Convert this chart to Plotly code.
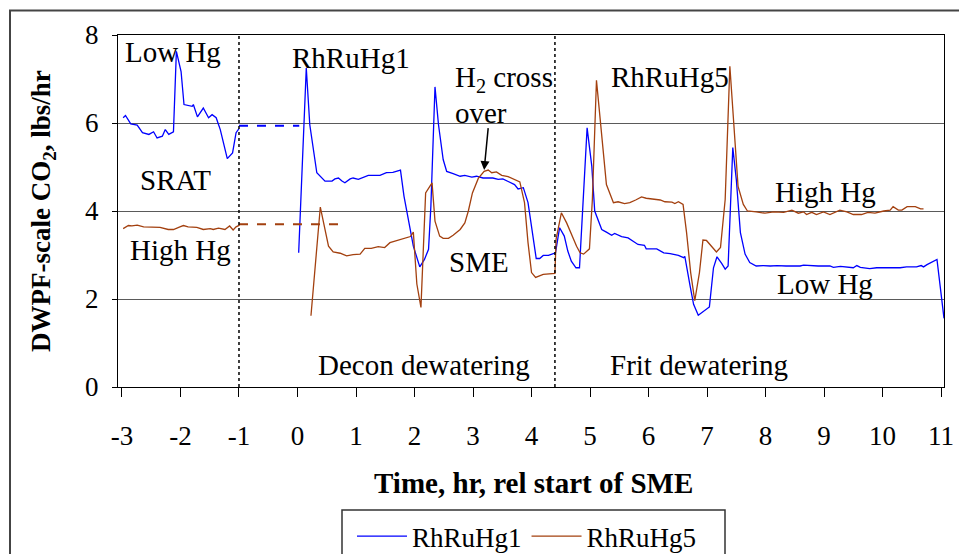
import plotly.graph_objects as go

# ---------------- data ----------------
# RhRuHg1 (low Hg) - SRAT segment
g1_srat_x = [-2.98, -2.94, -2.85, -2.74, -2.65, -2.54, -2.46, -2.40, -2.31, -2.26, -2.20, -2.12,
             -2.07, -1.99, -1.94, -1.80, -1.78, -1.71, -1.61, -1.52, -1.46, -1.39, -1.32, -1.27,
             -1.20, -1.11, -1.05, -1.00]
g1_srat_y = [6.12, 6.17, 5.98, 5.95, 5.78, 5.74, 5.80, 5.66, 5.70, 5.85, 5.74, 5.80,
             7.63, 7.17, 6.42, 6.38, 6.42, 6.14, 6.34, 6.12, 6.19, 6.12, 5.85, 5.55,
             5.19, 5.32, 5.78, 5.87]
# RhRuHg1 - SME segment
g1_sme_x = [0.02, 0.15, 0.21, 0.33, 0.47, 0.59, 0.64, 0.70, 0.76, 0.81, 0.90, 0.95, 1.04, 1.21,
            1.41, 1.52, 1.63, 1.74, 1.76, 1.82, 1.89, 1.98, 2.09, 2.17, 2.24, 2.28, 2.35, 2.41,
            2.49, 2.55, 2.66, 2.78, 2.86, 2.98, 3.06, 3.17, 3.34, 3.43, 3.51, 3.63, 3.71, 3.77,
            3.86, 3.94, 4.00, 4.08, 4.14, 4.20, 4.29, 4.41, 4.48, 4.56, 4.62, 4.68, 4.76, 4.82,
            4.95, 5.03, 5.08, 5.20, 5.28, 5.37, 5.42, 5.54, 5.65, 5.74, 5.82, 5.93, 5.96, 6.14,
            6.26, 6.37, 6.51, 6.60, 6.62, 6.71, 6.77, 6.85, 6.94, 7.04, 7.11, 7.17, 7.25, 7.31,
            7.36, 7.44, 7.50, 7.57, 7.65, 7.73, 7.84, 7.96, 8.08, 8.20, 8.35, 8.59, 8.65, 8.80,
            8.90, 9.10, 9.16, 9.28, 9.50, 9.56, 9.62, 9.78, 9.90, 10.30, 10.41, 10.58, 10.66,
            10.70, 10.76, 10.93, 11.03, 11.05]
g1_sme_y = [3.05, 7.25, 5.96, 4.87, 4.68, 4.68, 4.73, 4.75, 4.68, 4.64, 4.73, 4.75, 4.72, 4.81,
            4.81, 4.87, 4.88, 4.93, 4.93, 4.34, 3.81, 3.20, 2.73, 2.90, 3.13, 4.11, 6.82, 5.96,
            5.17, 4.90, 4.85, 4.79, 4.81, 4.77, 4.79, 4.75, 4.75, 4.72, 4.73, 4.66, 4.60, 4.50,
            4.53, 4.19, 3.66, 2.92, 2.92, 2.99, 2.99, 3.05, 3.62, 3.43, 3.09, 2.86, 2.71, 2.71,
            5.89, 5.02, 4.00, 3.58, 3.52, 3.45, 3.49, 3.42, 3.39, 3.32, 3.24, 3.22, 3.14, 3.14,
            3.05, 3.03, 2.99, 2.94, 2.97, 2.30, 1.88, 1.63, 1.73, 1.82, 2.71, 2.96, 2.81, 2.68,
            2.75, 5.44, 4.72, 3.51, 3.02, 2.83, 2.75, 2.76, 2.75, 2.76, 2.75, 2.75, 2.77, 2.75,
            2.75, 2.75, 2.72, 2.74, 2.71, 2.76, 2.72, 2.69, 2.71, 2.71, 2.73, 2.73, 2.76,
            2.73, 2.78, 2.90, 1.84, 1.56]

# RhRuHg5 (high Hg) - SRAT segment
g5_srat_x = [-2.98, -2.89, -2.83, -2.74, -2.63, -2.46, -2.35, -2.21, -2.12, -2.01, -1.95, -1.87,
             -1.72, -1.61, -1.49, -1.44, -1.35, -1.24, -1.16, -1.10, -1.05, -0.99]
g5_srat_y = [3.60, 3.67, 3.66, 3.68, 3.64, 3.63, 3.63, 3.58, 3.58, 3.64, 3.67, 3.64,
             3.63, 3.58, 3.60, 3.58, 3.61, 3.58, 3.66, 3.57, 3.64, 3.68]
# RhRuHg5 - SME segment
g5_sme_x = [0.23, 0.39, 0.53, 0.61, 0.73, 0.84, 0.95, 1.07, 1.15, 1.26, 1.38, 1.49, 1.58, 1.69,
            1.83, 1.93, 1.98, 2.04, 2.11, 2.19, 2.30, 2.35, 2.43, 2.49, 2.58, 2.66, 2.78, 2.86,
            2.92, 2.99, 3.09, 3.19, 3.26, 3.32, 3.40, 3.49, 3.60, 3.69, 3.80, 3.88, 3.94, 4.00,
            4.07, 4.20, 4.37, 4.40, 4.42, 4.51, 4.60, 4.69, 4.77, 4.83, 4.89, 4.99, 5.04, 5.11,
            5.20, 5.28, 5.40, 5.48, 5.59, 5.68, 5.78, 5.88, 5.96, 6.09, 6.20, 6.28, 6.40, 6.45,
            6.51, 6.59, 6.65, 6.72, 6.79, 6.87, 6.93, 6.99, 7.08, 7.16, 7.23, 7.31, 7.39, 7.48,
            7.53, 7.62, 7.69, 7.84, 7.99, 8.14, 8.31, 8.45, 8.56, 8.65, 8.70, 8.79, 8.87, 8.99,
            9.10, 9.27, 9.39, 9.50, 9.64, 9.75, 9.87, 10.02, 10.13, 10.18, 10.27, 10.33, 10.42,
            10.56, 10.65, 10.70]
g5_sme_y = [1.62, 4.09, 3.20, 3.07, 3.04, 2.98, 3.01, 3.02, 3.15, 3.15, 3.19, 3.17, 3.28, 3.32,
            3.37, 3.42, 3.52, 2.34, 1.81, 4.41, 4.64, 3.77, 3.43, 3.38, 3.38, 3.45, 3.58, 3.73,
            4.00, 4.41, 4.74, 4.90, 4.93, 4.87, 4.89, 4.81, 4.78, 4.72, 4.66, 4.19, 3.28, 2.60,
            2.49, 2.56, 2.58, 2.58, 3.36, 3.96, 3.73, 3.43, 3.20, 3.05, 3.02, 3.14, 4.26, 6.97,
            5.62, 4.60, 4.19, 4.21, 4.17, 4.19, 4.25, 4.32, 4.29, 4.26, 4.25, 4.21, 4.20, 4.17,
            4.21, 4.15, 3.51, 2.60, 1.96, 2.60, 3.34, 3.33, 3.20, 3.07, 3.17, 4.26, 7.29, 5.62,
            4.56, 4.15, 4.00, 3.98, 3.95, 3.98, 3.97, 4.02, 3.95, 3.98, 3.92, 3.97, 3.92, 3.98,
            3.92, 4.02, 3.98, 3.92, 3.92, 3.97, 3.95, 4.00, 4.02, 4.10, 4.02, 4.02, 4.10,
            4.10, 4.05, 4.05]

# dashed carry-over levels between SRAT end and SME
g1_gap_x = [-1.0, 0.03]
g1_gap_y = [5.94, 5.94]
g5_gap_x = [-1.0, 0.78]
g5_gap_y = [3.70, 3.70]

phase_bounds = [-1.0, 4.4]
x_ticks = list(range(-3, 12))
x_ticktext = [str(v) for v in x_ticks]  # plain hyphen minus, as in the original
y_ticks = [0, 2, 4, 6, 8]

BLUE = "#0000FF"
BROWN = "#A3400F"
FONT = "Liberation Serif"

fig = go.Figure()
fig.add_trace(go.Scatter(x=g1_srat_x + [None] + g1_sme_x, y=g1_srat_y + [None] + g1_sme_y,
                         mode="lines", name="RhRuHg1", line=dict(color=BLUE, width=1.3),
                         connectgaps=False))
fig.add_trace(go.Scatter(x=g5_srat_x + [None] + g5_sme_x, y=g5_srat_y + [None] + g5_sme_y,
                         mode="lines", name="RhRuHg5", line=dict(color=BROWN, width=1.3),
                         connectgaps=False))
fig.add_trace(go.Scatter(x=g1_gap_x, y=g1_gap_y, mode="lines", showlegend=False,
                         line=dict(color=BLUE, width=2, dash="dash")))
fig.add_trace(go.Scatter(x=g5_gap_x, y=g5_gap_y, mode="lines", showlegend=False,
                         line=dict(color=BROWN, width=2, dash="dash")))

for xb in phase_bounds:
    fig.add_shape(type="line", xref="x", yref="y", x0=xb, x1=xb, y0=0, y1=8,
                  line=dict(color="black", width=1.5, dash="dot"))

# plot-area pixel mapping helpers for paper coords (layout only)
L, T, W, H = 118, 35, 826, 352
def px(x):
    return (x - L) / W
def py(y):
    return (T + H - y) / H

# outer chart border
fig.add_shape(type="rect", xref="paper", yref="paper", x0=px(10), x1=px(980),
              y0=py(600), y1=py(10.5), line=dict(color="#444444", width=2), layer="below")
# legend box
fig.add_shape(type="rect", xref="paper", yref="paper", x0=px(342), x1=px(725),
              y0=py(600), y1=py(510), line=dict(color="#333333", width=1.5))

ann_font = dict(family=FONT, size=29, color="black")
labels = [
    ("Low Hg", -2.12, 7.61, "center"),
    ("SRAT", -2.08, 4.70, "center"),
    ("High Hg", -2.0, 3.11, "center"),
    ("RhRuHg1", 0.92, 7.48, "center"),
    ("H<sub>2</sub> cross", 2.66, 7.0, "left"),
    ("over", 2.66, 6.23, "left"),
    ("SME", 3.10, 2.84, "center"),
    ("Decon dewatering", 2.16, 0.50, "center"),
    ("Frit dewatering", 6.87, 0.50, "center"),
    ("RhRuHg5", 6.36, 7.05, "center"),
    ("High Hg", 9.03, 4.43, "center"),
    ("Low Hg", 9.02, 2.34, "center"),
]
for txt, x, y, anc in labels:
    fig.add_annotation(x=x, y=y, xref="x", yref="y", text=txt, showarrow=False,
                       xanchor=anc, yanchor="middle", font=ann_font)

# arrow to H2 cross-over point
fig.add_annotation(x=3.19, y=4.93, xref="x", yref="y", text=" ", showarrow=True,
                   ax=5, ay=-52, arrowhead=2, arrowsize=1.2, arrowwidth=1.5, arrowcolor="black")

# axis titles
fig.add_annotation(xref="paper", yref="paper", x=px(533), y=py(483),
                   text="<b>Time, hr, rel start of SME</b>", showarrow=False,
                   xanchor="center", yanchor="middle",
                   font=dict(family=FONT, size=29, color="black"))
fig.add_annotation(xref="paper", yref="paper", x=px(43), y=0.5,
                   text="<b>DWPF-scale CO<sub>2</sub>, lbs/hr</b>", showarrow=False,
                   textangle=-90, xanchor="center", yanchor="middle",
                   font=dict(family=FONT, size=27, color="black"))

fig.update_layout(
    width=959, height=554,
    margin=dict(l=L, r=959 - L - W, t=T, b=554 - T - H, autoexpand=False),
    paper_bgcolor="white", plot_bgcolor="white",
    showlegend=True,
    legend=dict(orientation="h", x=px(352), y=py(512), xanchor="left", yanchor="top",
                font=dict(family=FONT, size=27, color="black"),
                bgcolor="rgba(0,0,0,0)", borderwidth=0, itemwidth=50),
    xaxis=dict(range=[-3.068, 11.05], tickvals=x_ticks, ticktext=x_ticktext,
               ticks="outside", ticklen=9,
               tickcolor="black", showline=True, linecolor="black", linewidth=1, mirror=True,
               showgrid=False, zeroline=False, ticklabelstandoff=16,
               tickfont=dict(family=FONT, size=27, color="black")),
    yaxis=dict(range=[0, 8], tickvals=y_ticks, ticks="outside", ticklen=5,
               tickcolor="black", showline=True, linecolor="black", linewidth=1, mirror=True,
               showgrid=True, gridcolor="#5a5a5a", gridwidth=1, zeroline=False,
               ticklabelstandoff=8,
               tickfont=dict(family=FONT, size=27, color="black")),
)

fig.write_html("out.html")
